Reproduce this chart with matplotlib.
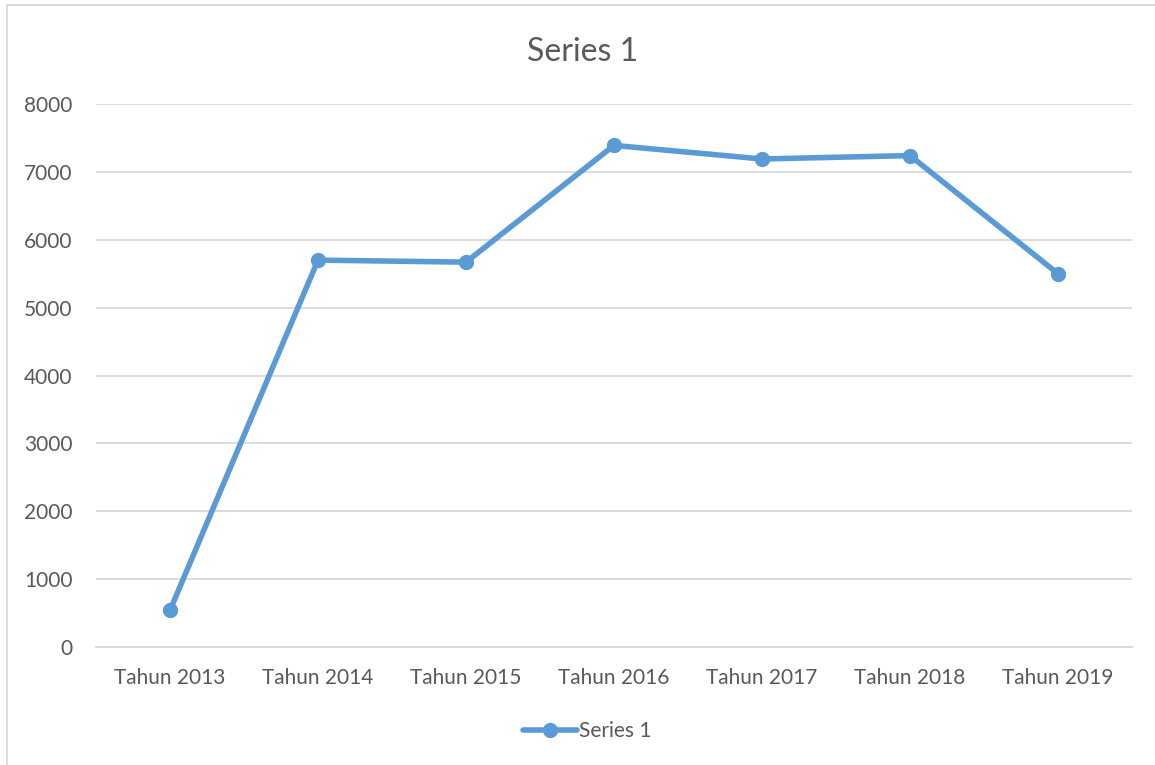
import matplotlib
matplotlib.use("Agg")
import matplotlib.pyplot as plt
from matplotlib.patches import Rectangle

categories = ["Tahun 2013", "Tahun 2014", "Tahun 2015", "Tahun 2016",
              "Tahun 2017", "Tahun 2018", "Tahun 2019"]
values = [540, 5700, 5670, 7390, 7190, 7240, 5500]
yticks = [0, 1000, 2000, 3000, 4000, 5000, 6000, 7000, 8000]
series_name = "Series 1"

plt.rcParams['font.family'] = ['Lato', 'DejaVu Sans']
W, H = 1155, 765
fig = plt.figure(figsize=(W / 100, H / 100), dpi=100)
fig.patch.set_facecolor("white")

# chart border
fig.patches.append(Rectangle((7 / W, -0.01), 1.1, 1 - 5 / H + 0.01,
                             transform=fig.transFigure, fill=False,
                             edgecolor="#d9d9d9", linewidth=1.3))

left, right, top, bottom = 96, 1132, 104, 647
ax = fig.add_axes([left / W, 1 - bottom / H, (right - left) / W, (bottom - top) / H])
x = list(range(len(categories)))
ax.plot(x, values, color="#5b9bd5", linewidth=4, marker="o", markersize=10,
        label=series_name, solid_capstyle="round", zorder=3)
ax.set_xlim(-0.5, len(categories) - 0.5)
ax.set_ylim(0, 8000)
ax.set_yticks(yticks)
ax.set_yticklabels([str(v) for v in yticks])
ax.set_xticks(x)
ax.set_xticklabels(categories)
ax.grid(axis="y", color="#d9d9d9", linewidth=1.3)
ax.set_axisbelow(True)
for s in ["top", "right", "left"]:
    ax.spines[s].set_visible(False)
ax.spines["bottom"].set_color("#d9d9d9")
ax.spines["bottom"].set_linewidth(1.3)
ax.tick_params(axis="both", length=0, labelsize=15, colors="#595959")
ax.tick_params(axis="y", pad=17)
ax.tick_params(axis="x", pad=15)

fig.text(583 / W, 1 - 52 / H, series_name, ha="center", va="center",
         fontsize=23, color="#595959")

leg = fig.legend(loc="center", bbox_to_anchor=(587 / W, 1 - 731 / H),
                 frameon=False, fontsize=15, handlelength=2.6, handletextpad=0.1,
                 labelcolor="#595959")

fig.savefig("out.png", dpi=100)
